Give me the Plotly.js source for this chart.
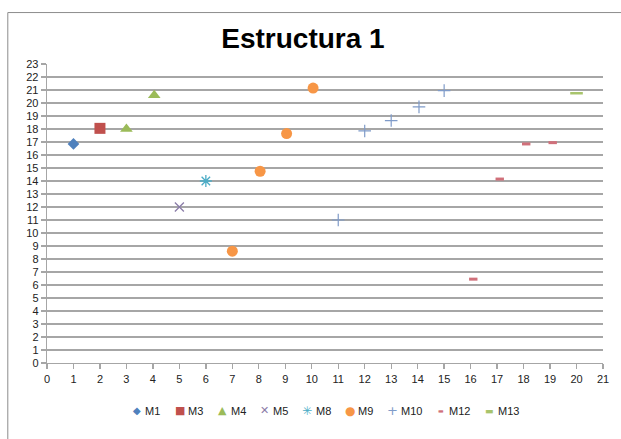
<!DOCTYPE html>
<html>
<head>
<meta charset="utf-8">
<script src="https://cdn.plot.ly/plotly-3.0.1.min.js"></script>
<style>
html,body{margin:0;padding:0;background:#fff;}
#chart{width:621px;height:439px;}
</style>
</head>
<body>
<div id="chart"></div>
<script>
// Data
const seriesNames = ["M1", "M3", "M4", "M5", "M8", "M9", "M10", "M12", "M13"];
const m1X = [1.0];            const m1Y = [16.85];
const m3X = [2.0];            const m3Y = [18.05];
const m4X = [3.0, 4.05];      const m4Y = [18.0, 20.6];
const m5X = [5.0];            const m5Y = [12.0];
const m8X = [6.0];            const m8Y = [14.0];
const m9X = [7.0, 8.05, 9.05, 10.05];  const m9Y = [8.6, 14.75, 17.65, 21.15];
const m10X = [11.0, 12.0, 13.0, 14.05, 15.0]; const m10Y = [11.0, 17.85, 18.65, 19.7, 20.95];
const m12X = [16.1, 17.1, 18.1, 19.1];  const m12Y = [6.45, 14.15, 16.85, 16.95];
const m13X = [20.0];          const m13Y = [20.75];
const titleText = "Estructura 1";
const legendGlyphs = ["\u25C6", "\u25A0", "\u25B2", "\u2715", "\u2733", "\u25CF", "+", "\u25AC", "\u25AC"];

const seriesX = [m1X, m3X, m4X, m5X, m8X, m9X, m10X, m12X, m13X];
const seriesY = [m1Y, m3Y, m4Y, m5Y, m8Y, m9Y, m10Y, m12Y, m13Y];

const styles = [
  {symbol: "diamond", size: 9, color: "#4F81BD"},
  {symbol: "square", size: 11, color: "#C0504D"},
  {symbol: "triangle-up", size: 11, color: "#9BBB59"},
  {symbol: "x-thin-open", size: 9, color: "#8A7CA8", lw: 1.3},
  {symbol: "asterisk-open", size: 10, color: "#4BACC6", lw: 1.3},
  {symbol: "circle", size: 11, color: "#F79646"},
  {symbol: "cross-thin-open", size: 9, color: "#7F9BC9", lw: 1.2},
  {symbol: "line-ew-open", size: 6, color: "#D0707A", lw: 3},
  {symbol: "line-ew-open", size: 9, color: "#A8C46C", lw: 2.5}
];
// legend layout (pixel positions of the glyph centres and label starts)
const legendGlyphPx = [137, 179.5, 222, 264.5, 307, 349.5, 392, 440.5, 489];
const legendLabelPx = [143, 186, 228.5, 271, 313.5, 356, 398.5, 446.5, 496];
const legendGlyphSize = [10, 11, 11, 11, 12, 12, 13, 6, 9];

const traces = seriesNames.map((name, i) => {
  const s = styles[i];
  const marker = {symbol: s.symbol, size: s.size, color: s.color};
  if (s.lw) marker.line = {color: s.color, width: s.lw};
  return {type: "scatter", mode: "markers", name: name,
          x: seriesX[i], y: seriesY[i], marker: marker, cliponaxis: false};
});

const plotL = 46.7, plotW = 556, plotB = 363.3, plotH = 299.3;
const px2x = p => (p - plotL) / plotW;
const py2y = p => (plotB - p) / plotH;
const font = "Liberation Sans, Arial, sans-serif";
const legendY = py2y(411);

const annotations = [];
seriesNames.forEach((name, i) => {
  annotations.push({xref: "paper", yref: "paper", x: px2x(legendGlyphPx[i]), y: legendY,
    xanchor: "center", yanchor: "middle", showarrow: false, text: legendGlyphs[i],
    font: {family: "DejaVu Sans, sans-serif", size: legendGlyphSize[i], color: styles[i].color}});
  annotations.push({xref: "paper", yref: "paper", x: px2x(legendLabelPx[i]), y: legendY,
    xanchor: "left", yanchor: "middle", showarrow: false, text: name,
    font: {family: font, size: 11, color: "#222"}});
});

const gridColor = "#A6A6A6";
const layout = {
  width: 621, height: 439,
  margin: {l: plotL, r: 621 - plotL - plotW, t: plotB - plotH, b: 439 - plotB, pad: 0},
  paper_bgcolor: "#ffffff", plot_bgcolor: "#ffffff",
  showlegend: false,
  title: {text: "<b>" + titleText + "</b>", x: 303/621, xanchor: "center",
          y: 1 - 38/439, yanchor: "middle",
          font: {family: font, size: 28, color: "#000"}},
  xaxis: {range: [0, 21], dtick: 1, tick0: 0, showgrid: false, zeroline: false,
          showline: true, linecolor: gridColor, linewidth: 1.3,
          ticks: "outside", ticklen: 5, tickcolor: gridColor, tickwidth: 1.3,
          tickfont: {family: font, size: 11, color: "#222"}, fixedrange: true},
  yaxis: {range: [0, 23], dtick: 1, tick0: 0, showgrid: true, gridcolor: gridColor, gridwidth: 1.3,
          zeroline: false, showline: true, linecolor: gridColor, linewidth: 1.3,
          ticks: "outside", ticklen: 5, tickcolor: gridColor, tickwidth: 1.3,
          tickfont: {family: font, size: 11, color: "#222"}, fixedrange: true},
  annotations: annotations,
  shapes: [{type: "rect", xref: "paper", yref: "paper",
            x0: px2x(7.5), x1: 1.1, y0: -0.35, y1: py2y(12.5),
            line: {color: "#8C8C8C", width: 1}, fillcolor: "rgba(0,0,0,0)", layer: "below"}]
};

Plotly.newPlot("chart", traces, layout, {staticPlot: true, displayModeBar: false});
</script>
</body>
</html>
